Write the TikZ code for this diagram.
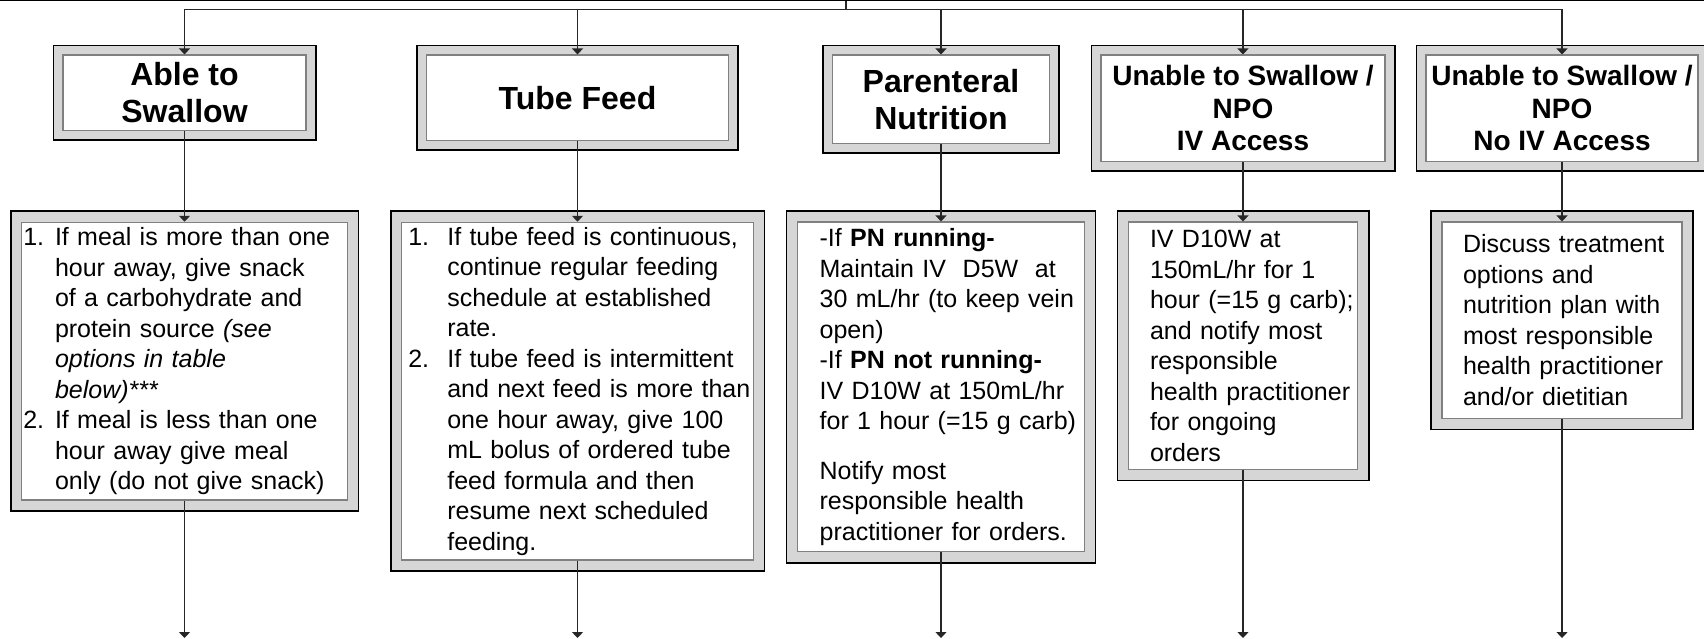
\documentclass[tikz,border=0pt]{standalone}
\usepackage{fontspec}
\setmainfont{Liberation Sans}
\usetikzlibrary{arrows.meta,backgrounds,fit}

\definecolor{framegray}{gray}{0.84}
\definecolor{edgegray}{gray}{0.5}

% numbered entry with hanging indent
\newcommand{\numitem}[3][32pt]{\hangindent=#1\hangafter=1\noindent\makebox[#1][l]{#2}#3\par}

\begin{document}
\begin{tikzpicture}[x=1pt,y=-1pt,
    inner/.style={draw=edgegray, line width=1.2pt, fill=white, inner sep=0pt},
    head/.style={inner, align=center, font=\bfseries\fontsize{32}{37}\selectfont},
    headsmall/.style={inner, align=center, font=\bfseries\fontsize{28}{32.5}\selectfont},
    body/.style={inner, align=left, font=\fontsize{25}{30.5}\selectfont},
    textindent/.style={execute at begin node={\leftskip=#1\relax\rightskip=0pt plus 1fil minus 30pt\relax}},
    frame/.style={draw=black, line width=1.8pt, fill=framegray},
    link/.style={draw=black!85, line width=1.2pt, -{Triangle[width=11pt,length=6pt]}}
  ]
    \useasboundingbox (0,0) rectangle (1704,638);

    % Headers
    \node[head, minimum width=243pt, minimum height=75.7pt] (h1) at (184.5,92.9) {Able to\\Swallow};
    \node[head, minimum width=302.3pt, minimum height=85.7pt] (h2) at (577.5,97.9) {Tube Feed};
    \node[head, minimum width=217pt, minimum height=88.3pt] (h3) at (941,99.2) {Parenteral\\Nutrition};
    \node[headsmall, minimum width=284pt, minimum height=106.7pt] (h4) at (1243,108.4) {Unable to Swallow /\\NPO\\IV Access};
    \node[headsmall, minimum width=272pt, minimum height=106.7pt] (h5) at (1562,108.4) {Unable to Swallow /\\NPO\\No IV Access};

    % Actions
    \node[body, text width=325.6pt, minimum height=277.7pt, textindent=1.6pt] (l1) at (184.5,361.2) {%
      \numitem[31.7pt]{1.}{If meal is more than one\newline
        hour away, give snack\newline
        of a carbohydrate and\newline
        protein source \textit{(see}\newline
        \textit{options in table}\newline
        \textit{below)***}}%
      \numitem[31.7pt]{2.}{If meal is less than one\newline
        hour away give meal\newline
        only (do not give snack)}};
    \node[body, text width=351.6pt, minimum height=337.7pt, textindent=6.6pt] (l2) at (577.5,391.2) {%
      \numitem[39pt]{1.}{If tube feed is continuous,\newline
        continue regular feeding\newline
        schedule at established\newline
        rate.}%
      \numitem[39pt]{2.}{If tube feed is intermittent\newline
        and next feed is more than\newline
        one hour away, give 100\newline
        mL bolus of ordered tube\newline
        feed formula and then\newline
        resume next scheduled\newline
        feeding.}};
    \node[body, text width=286.7pt, minimum height=329.7pt, textindent=22pt] (l3) at (941,386.9) {%
      -If \textbf{PN running-}\\
      Maintain IV\ \ D5W\ \ at\\
      30 mL/hr (to keep vein\\
      open)\\
      -If \textbf{PN not running-}\\
      IV D10W at 150mL/hr\\
      for 1 hour (=15 g carb)\\[19pt]
      Notify most\\
      responsible health\\
      practitioner for orders.};
    \node[body, text width=229pt, minimum height=247.3pt, textindent=21.5pt] (l4) at (1243,345.7) {%
      IV D10W at\\
      150mL/hr for 1\\
      hour (=15 g carb);\\
      and notify most\\
      responsible\\
      health practitioner\\
      for ongoing\\
      orders};
    \node[body, text width=240pt, minimum height=196.3pt, textindent=21pt] (l5) at (1562,320.2) {%
      Discuss treatment\\
      options and\\
      nutrition plan with\\
      most responsible\\
      health practitioner\\
      and/or dietitian};

    % Gray frames
    \begin{scope}[on background layer]
        \foreach \n in {h1,h2,h3,h4,h5}
            \node[frame, fit=(\n), inner sep=9pt] {};
        \foreach \n in {l1,l2,l3,l4,l5}
            \node[frame, fit=(\n), inner sep=10.5pt] {};
    \end{scope}

    % Bus from the box above
    \coordinate (top) at (846,0.6);
    \coordinate (bus) at (846,9.3);
    \coordinate (foot) at (846,638);
    \draw[line width=1.2pt] (0,0.6) -- (1704,0.6);
    \draw[black!85, line width=1.2pt] (top) -- (bus);
    \draw[black!85, line width=1.2pt] (h1.north |- bus) -- (h5.north |- bus);

    % Connectors
    \foreach \n in {1,...,5} {
        \draw[link] (h\n.north |- bus) -- (h\n.north);
        \draw[link] (h\n.south) -- (l\n.north);
        \draw[link] (l\n.south) -- (l\n.south |- foot);
    }
\end{tikzpicture}
\end{document}
